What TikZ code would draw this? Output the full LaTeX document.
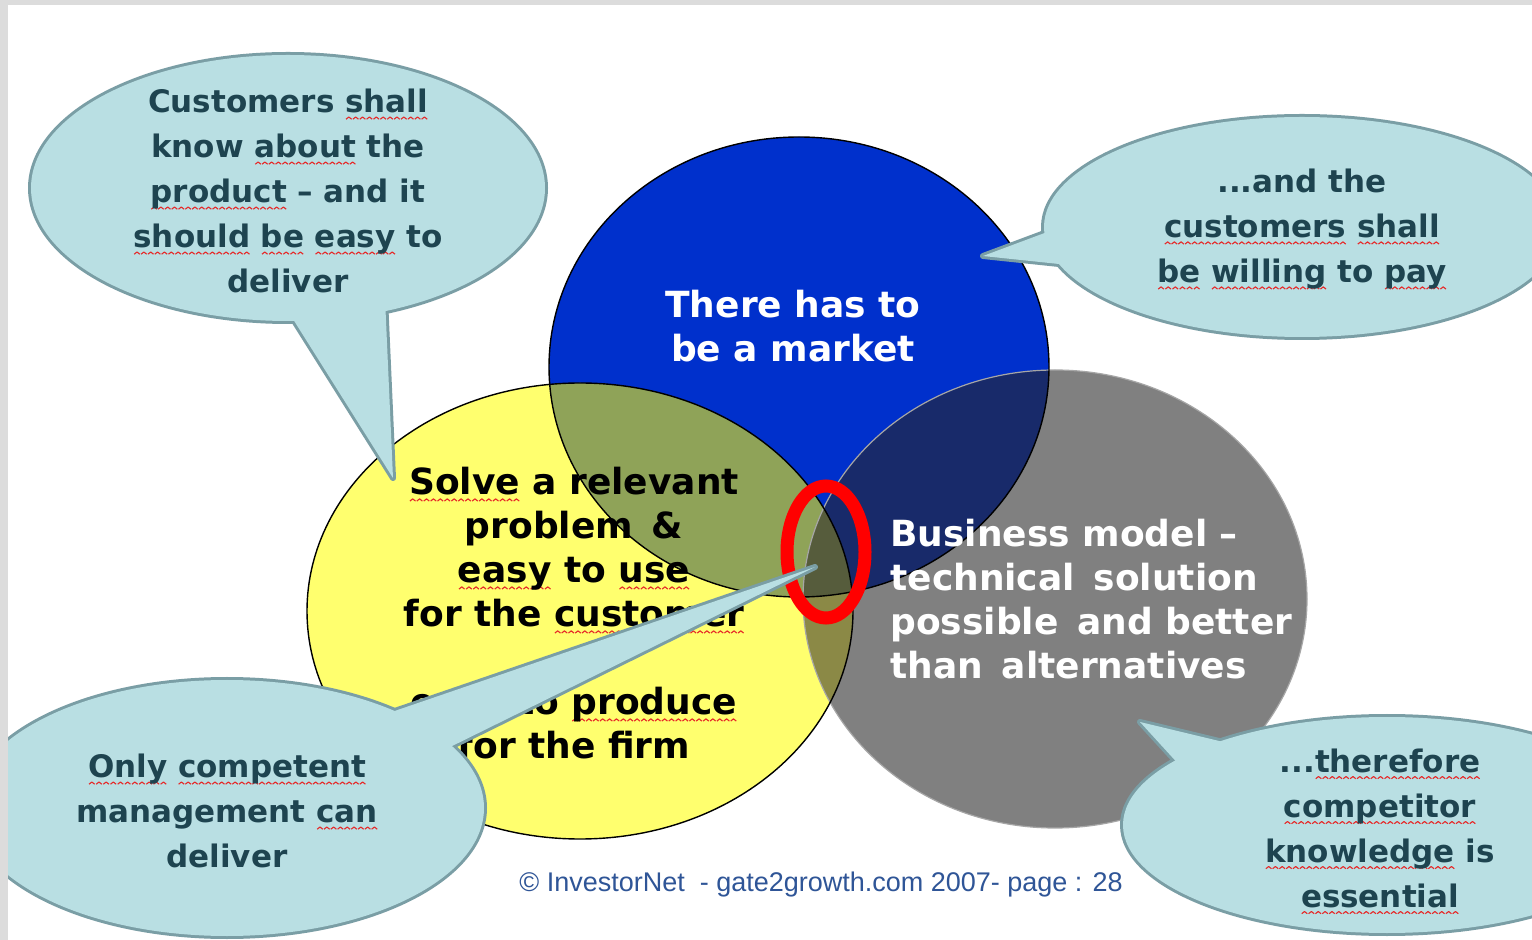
\documentclass[tikz,border=0pt]{standalone}
\usepackage{fontspec}
\setmainfont{DejaVu Sans}
\newfontfamily\footfont{Liberation Sans}

\definecolor{framegray}{RGB}{220,220,220}
\definecolor{marketblue}{RGB}{0,48,204}
\definecolor{solveyellow}{RGB}{255,255,110}
\definecolor{techgray}{RGB}{128,128,128}
\definecolor{yellowblue}{RGB}{143,163,88}
\definecolor{bluegray}{RGB}{24,42,106}
\definecolor{yellowgray}{RGB}{139,137,70}
\definecolor{allthree}{RGB}{86,92,60}
\definecolor{calloutfill}{RGB}{185,223,227}
\definecolor{calloutedge}{RGB}{122,158,165}
\definecolor{callouttext}{RGB}{30,68,80}
\definecolor{footblue}{RGB}{47,85,151}
\definecolor{spellred}{RGB}{230,40,40}

% red wavy underline under a word
\newsavebox\spellwavebox
\newcommand\spellmark[1]{\leavevmode\setbox0\hbox{#1}%
  \rlap{\raisebox{-3.6pt}[0pt][0pt]{\hbox to \wd0{\xleaders\copy\spellwavebox\hfill}}}\box0\relax}
% wider gap between words
\newcommand\widegap{\hspace{0.52em}}

\begin{document}
\sbox\spellwavebox{\begin{pgfpicture}
  \pgfpathmoveto{\pgfpoint{0pt}{0pt}}
  \pgfpathlineto{\pgfpoint{1.4pt}{1.1pt}}
  \pgfpathlineto{\pgfpoint{2.8pt}{0pt}}
  \pgfsetcolor{spellred}
  \pgfsetlinewidth{0.55pt}
  \pgfsetroundjoin
  \pgfusepath{stroke}
\end{pgfpicture}}
\begin{tikzpicture}[x=0.5pt,y=-0.5pt,
  circletext/.style={font=\fontsize{18}{22}\selectfont\bfseries, align=center, inner sep=0pt},
  callouttxt/.style={font=\fontsize{15.5}{22.5}\selectfont\bfseries, text=callouttext, align=center, inner sep=0pt},
  calloutline/.style={draw=calloutedge, line width=3pt, line join=round},
  outlinedark/.style={draw=black, line width=0.7pt},
  outlinelight/.style={draw=black!35, line width=0.6pt}
]
\useasboundingbox (0,0) rectangle (1532,940);
\fill[framegray] (0,0) rectangle (1532,940);

\begin{scope}
\clip (8,5) rectangle (1532,940);
\fill[white] (8,5) rectangle (1532,940);

% the three circles
\coordinate (cblue) at (799,367);
\coordinate (cgray) at (1055,599);
\coordinate (cyellow) at (580,611);
\def\blueshape{(cblue) ellipse [x radius=250, y radius=230]}
\def\grayshape{(cgray) ellipse [x radius=252, y radius=229]}
\def\yellowshape{(cyellow) ellipse [x radius=273, y radius=228]}

\fill[marketblue] \blueshape;
\fill[techgray] \grayshape;
\fill[solveyellow] \yellowshape;
\begin{scope}
  \clip \yellowshape;
  \fill[yellowblue] \blueshape;
  \fill[yellowgray] \grayshape;
  \clip \blueshape;
  \fill[allthree] \grayshape;
\end{scope}
\begin{scope}[even odd rule]
  \clip \yellowshape (0,0) rectangle (1532,940);
  \clip \blueshape;
  \fill[bluegray] \grayshape;
\end{scope}

\draw[outlinelight] \grayshape;
\draw[outlinedark] \blueshape;
\draw[outlinedark] \yellowshape;

% circle texts
\node[circletext, text=white] (market) at (793,326) {There has to\\be a market};
\node[circletext, text=black] (solve) at (574,613) {\spellmark{Solve} a relevant\\problem\widegap\&\\\spellmark{easy} to \spellmark{use}\\for the \spellmark{customer}\\–\\\spellmark{easy} to \spellmark{produce}\\for the firm};
\node[circletext, text=white, align=left, anchor=west] (business) at (890,599) {Business model –\\technical\widegap solution\\possible\widegap and better\\than\widegap alternatives};

% red ring around the common overlap
\draw[red, line width=6.5pt] (826,552) ellipse [x radius=39, y radius=66];

% callout: top left
\coordinate (c1) at (288,188);
\coordinate (c1a) at (286,308);
\coordinate (c1b) at (385,298);
\coordinate (c1tip) at (393,478);
\path[calloutline] (c1) ellipse [x radius=257, y radius=133];
\path[calloutline] (c1a) -- (c1tip) -- (c1b) -- cycle;
\fill[calloutfill] (c1) ellipse [x radius=257, y radius=133];
\fill[calloutfill] (c1a) -- (c1tip) -- (c1b) -- cycle;
\node[callouttxt] (know) at (288,191) {Customers \spellmark{shall}\\know \spellmark{about} the\\\spellmark{product} – and it\\\spellmark{should} \spellmark{be} \spellmark{easy} to\\deliver};

% callout: top right
\coordinate (c2) at (1302,227);
\coordinate (c2a) at (1058,228);
\coordinate (c2b) at (1078,266);
\coordinate (c2tip) at (983,256);
\path[calloutline] (c2) ellipse [x radius=258, y radius=110];
\path[calloutline] (c2a) -- (c2tip) -- (c2b) -- cycle;
\fill[calloutfill] (c2) ellipse [x radius=258, y radius=110];
\fill[calloutfill] (c2a) -- (c2tip) -- (c2b) -- cycle;
\node[callouttxt] (pay) at (1302,229) {...and the\\\spellmark{customers} \spellmark{shall}\\\spellmark{be} \spellmark{willing} to \spellmark{pay}};

% callout: bottom left
\coordinate (c3) at (227,808);
\coordinate (c3a) at (380,716);
\coordinate (c3b) at (440,752);
\coordinate (c3tip) at (815,567);
\path[calloutline] (c3) ellipse [x radius=257, y radius=128];
\path[calloutline] (c3a) -- (c3tip) -- (c3b) -- cycle;
\fill[calloutfill] (c3) ellipse [x radius=257, y radius=128];
\fill[calloutfill] (c3a) -- (c3tip) -- (c3b) -- cycle;
\node[callouttxt] (management) at (227,811) {\spellmark{Only} \spellmark{competent}\\management \spellmark{can}\\deliver};

% callout: bottom right
\coordinate (c4) at (1387,825);
\coordinate (c4a) at (1240,746);
\coordinate (c4b) at (1182,768);
\coordinate (c4tip) at (1140,722);
\path[calloutline] (c4) ellipse [x radius=264, y radius=108];
\path[calloutline] (c4a) -- (c4tip) -- (c4b) -- cycle;
\fill[calloutfill] (c4) ellipse [x radius=264, y radius=108];
\fill[calloutfill] (c4a) -- (c4tip) -- (c4b) -- cycle;
\node[callouttxt] (competitor) at (1380,828) {...\spellmark{therefore}\\\spellmark{competitor}\\\spellmark{knowledge} is\\\spellmark{essential}};

% footer
\node[font=\footfont\fontsize{13.5}{15}\selectfont, text=footblue, inner sep=0pt] (footer) at (821,885) {© InvestorNet\ \ - gate2growth.com 2007- page : 28};
\end{scope}
\end{tikzpicture}
\end{document}
